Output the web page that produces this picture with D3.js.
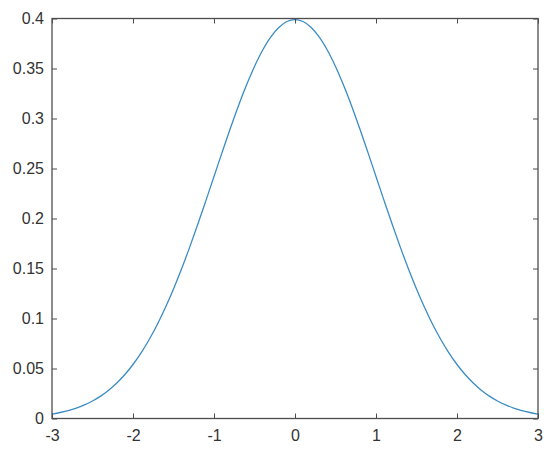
<!DOCTYPE html>
<html><head><meta charset="utf-8">
<script src="https://cdn.jsdelivr.net/npm/d3@7"></script>
<style>body{margin:0;background:#fff}svg{display:block}</style>
</head><body>
<svg id="c" width="550" height="450"></svg>
<script>
const xValues = [-3,-2.9,-2.8,-2.7,-2.6,-2.5,-2.4,-2.3,-2.2,-2.1,-2,-1.9,-1.8,-1.7,-1.6,-1.5,-1.4,-1.3,-1.2,-1.1,-1,-0.9,-0.8,-0.7,-0.6,-0.5,-0.4,-0.3,-0.2,-0.1,0,0.1,0.2,0.3,0.4,0.5,0.6,0.7,0.8,0.9,1,1.1,1.2,1.3,1.4,1.5,1.6,1.7,1.8,1.9,2,2.1,2.2,2.3,2.4,2.5,2.6,2.7,2.8,2.9,3];
const yValues = [0.0044,0.0060,0.0079,0.0104,0.0136,0.0175,0.0224,0.0283,0.0355,0.0440,0.0540,0.0656,0.0790,0.0940,0.1109,0.1295,0.1497,0.1714,0.1942,0.2179,0.2420,0.2661,0.2897,0.3123,0.3332,0.3521,0.3683,0.3814,0.3910,0.3970,0.3989,0.3970,0.3910,0.3814,0.3683,0.3521,0.3332,0.3123,0.2897,0.2661,0.2420,0.2179,0.1942,0.1714,0.1497,0.1295,0.1109,0.0940,0.0790,0.0656,0.0540,0.0440,0.0355,0.0283,0.0224,0.0175,0.0136,0.0104,0.0079,0.0060,0.0044];
const xTicks = [-3,-2,-1,0,1,2,3];
const yTicks = [0,0.05,0.1,0.15,0.2,0.25,0.3,0.35,0.4];

const L=52,R=538,T=18.5,B=418.5;
const svg=d3.select("#c");
const x=d3.scaleLinear().domain([-3,3]).range([L,R]);
const y=d3.scaleLinear().domain([0,0.4]).range([B,T]);
const axCol="#4d4d4d", txtCol="#333";
const fmt=d=>String(d);

const line=d3.line().x((d,i)=>x(xValues[i])).y(d=>y(d)).curve(d3.curveCatmullRom);
svg.append("path").datum(yValues).attr("d",line).attr("fill","none")
  .attr("stroke","#3a8cc4").attr("stroke-width",1.3);

function style(g){g.select(".domain").remove();g.selectAll("line").attr("stroke",axCol);
  g.selectAll("text").attr("fill",txtCol).attr("font-size",16).attr("font-family","Liberation Sans, Arial, sans-serif");}
svg.append("g").attr("transform",`translate(0,${B})`)
  .call(d3.axisBottom(x).tickValues(xTicks).tickFormat(fmt).tickSizeInner(-5).tickPadding(11)).call(style);
svg.append("g").attr("transform",`translate(${L},0)`)
  .call(d3.axisLeft(y).tickValues(yTicks).tickFormat(fmt).tickSizeInner(-5).tickPadding(8)).call(style);
svg.append("g").attr("transform",`translate(0,${T})`)
  .call(d3.axisTop(x).tickValues(xTicks).tickFormat("").tickSizeInner(-5)).call(style);
svg.append("g").attr("transform",`translate(${R},0)`)
  .call(d3.axisRight(y).tickValues(yTicks).tickFormat("").tickSizeInner(-5)).call(style);
svg.append("rect").attr("x",L).attr("y",T).attr("width",R-L).attr("height",B-T)
  .attr("fill","none").attr("stroke",axCol).attr("stroke-width",1.3);
</script>
</body></html>
